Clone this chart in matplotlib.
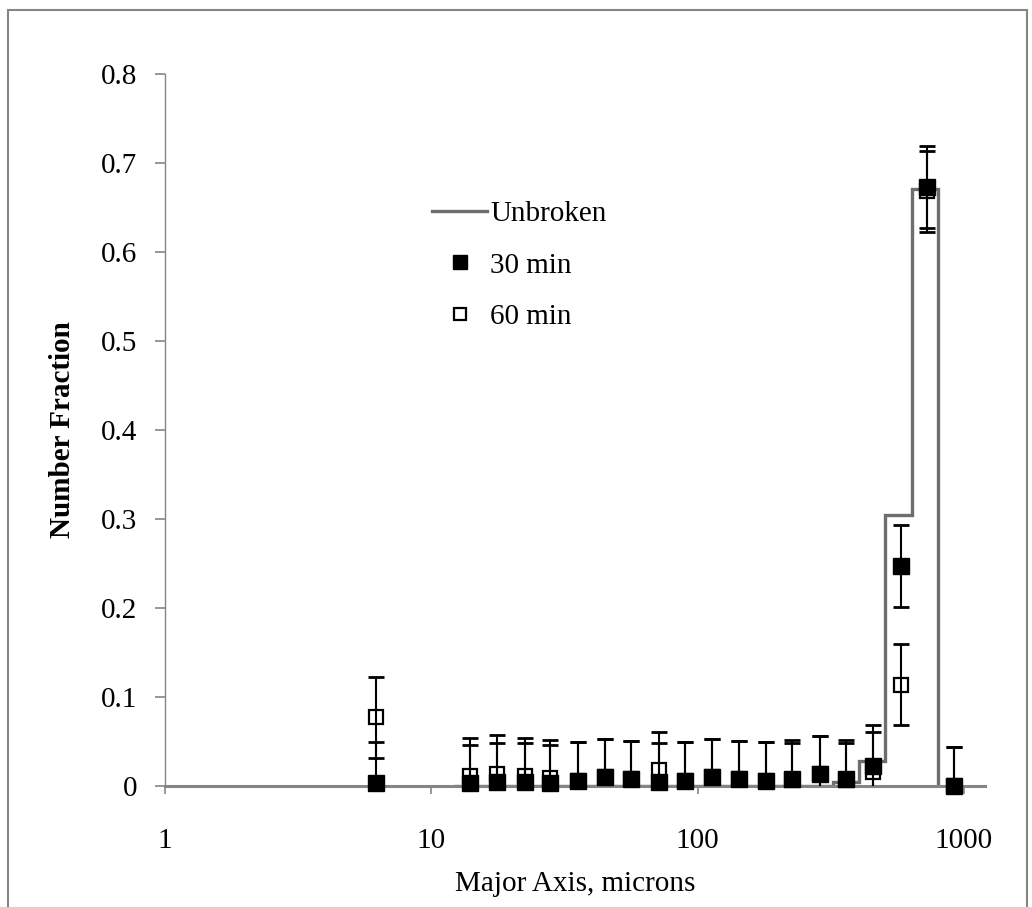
import numpy as np
import matplotlib
matplotlib.use("Agg")
import matplotlib.pyplot as plt
from matplotlib.lines import Line2D
from matplotlib.patches import Rectangle

plt.rcParams["font.family"] = ["Liberation Serif", "DejaVu Serif"]

# -------------------------
# DATA
# -------------------------
# bin centres (major axis, microns)
size = [6.2, 14.0, 17.7, 22.4, 28.0, 35.6, 45.0, 56.3, 71.4, 90.0,
        113, 143, 181, 226, 288, 362, 457, 582, 727, 915]

frac_30 = [0.003, 0.003, 0.005, 0.005, 0.003, 0.006, 0.010, 0.008, 0.005, 0.006,
           0.010, 0.008, 0.006, 0.008, 0.013, 0.008, 0.023, 0.247, 0.673, 0.0]
err_30 = [0.046, 0.043, 0.043, 0.043, 0.043, 0.043, 0.043, 0.043, 0.043, 0.043,
          0.043, 0.043, 0.043, 0.044, 0.043, 0.044, 0.045, 0.046, 0.046, 0.044]

frac_60 = [0.077, 0.011, 0.014, 0.011, 0.009, 0.006, 0.010, 0.008, 0.018, 0.006,
           0.010, 0.008, 0.006, 0.007, 0.013, 0.007, 0.016, 0.114, 0.668, 0.0]
err_60 = [0.045, 0.043, 0.043, 0.043, 0.043, 0.043, 0.043, 0.043, 0.043, 0.043,
          0.043, 0.043, 0.043, 0.041, 0.043, 0.041, 0.045, 0.045, 0.046, 0.044]

# unbroken fibres as a step histogram
unbroken_edges = [12.2, 323, 402, 506, 638, 800]
unbroken_frac = [0.0, 0.004, 0.028, 0.304, 0.671]

# -------------------------
# PLOT
# -------------------------
fig = plt.figure(figsize=(10.32, 9.07), dpi=100)
ax = fig.add_axes([165 / 1032, 1 - 786 / 907, 820 / 1032, 712 / 907])

grey = "#858585"

ax.stairs(unbroken_frac, unbroken_edges, baseline=0, color="#6e6e6e", lw=2.4, zorder=2)

ax.plot(size, frac_60, ls="none", marker="s", ms=10, mfc="white", mec="black",
        mew=1.6, zorder=3, clip_on=False)
ax.errorbar(size, frac_60, yerr=err_60, fmt="none", ecolor="black", elinewidth=1.5,
            capsize=5.5, capthick=2, zorder=4)
ax.errorbar(size, frac_30, yerr=err_30, fmt="none", ecolor="black", elinewidth=1.5,
            capsize=5.5, capthick=2, zorder=4)
ax.plot(size, frac_30, ls="none", marker="s", ms=11, mfc="black", mec="black",
        zorder=5, clip_on=False)

ax.set_xscale("log")
ax.set_xlim(1, 1200)
ax.set_ylim(0, 0.8)
ax.set_xticks([1, 10, 100, 1000])
ax.set_xticklabels(["1", "10", "100", "1000"])
ax.xaxis.set_minor_locator(matplotlib.ticker.NullLocator())
ax.set_yticks(np.arange(0, 0.81, 0.1))
ax.set_yticklabels(["0", "0.1", "0.2", "0.3", "0.4", "0.5", "0.6", "0.7", "0.8"])

for s in ["top", "right"]:
    ax.spines[s].set_visible(False)
ax.spines["left"].set_color(grey)
ax.spines["left"].set_linewidth(1.0)
ax.spines["bottom"].set_color(grey)
ax.spines["bottom"].set_linewidth(2.2)

ax.tick_params(axis="y", direction="out", length=7, width=1.2, color=grey,
               pad=13, labelsize=21)
ax.tick_params(axis="x", direction="out", length=6, width=1.2, color=grey,
               pad=24, labelsize=21)

ax.set_xlabel("Major Axis, microns", fontsize=21)
ax.set_ylabel("Number Fraction", fontsize=21, fontweight="bold")
ax.xaxis.set_label_coords(0.5, -0.12)
ax.yaxis.set_label_coords(-0.108, 0.5)

handles = [
    Line2D([], [], color="#6e6e6e", lw=2.4),
    Line2D([], [], ls="none", marker="s", ms=10, mfc="black", mec="black"),
    Line2D([], [], ls="none", marker="s", ms=9, mfc="white", mec="black", mew=1.6),
]
ax.legend(handles, ["Unbroken", "30 min", "60 min"], loc="upper left",
          bbox_to_anchor=(432 / 1032, 1 - 201 / 907), bbox_transform=fig.transFigure,
          frameon=False, fontsize=21, handlelength=1.9, handletextpad=0.1,
          labelspacing=0.85, borderpad=0, borderaxespad=0)

# outer chart border
fig.patches.append(Rectangle((8 / 1032, -0.05), 1019 / 1032, 1.05 - 10 / 907,
                             transform=fig.transFigure, fill=False,
                             edgecolor=grey, lw=1.5))

fig.savefig("out.png", dpi=100)
